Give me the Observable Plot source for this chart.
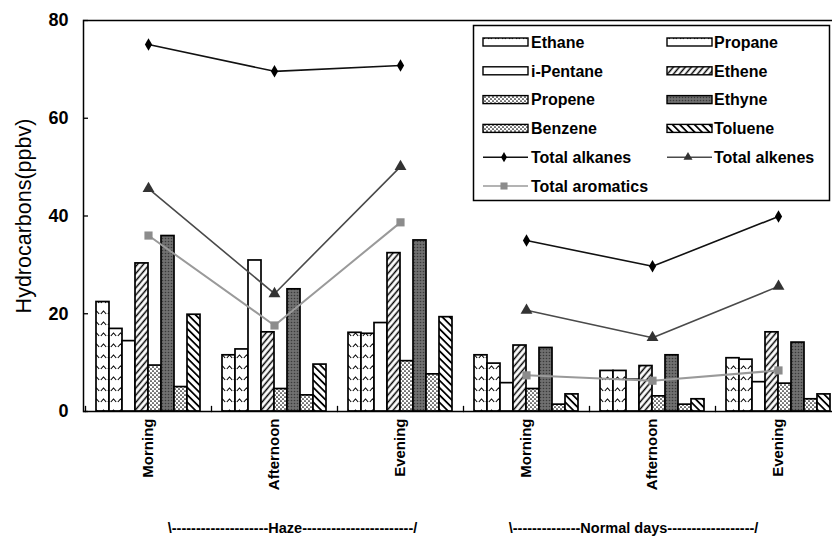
<!DOCTYPE html>
<html><head><meta charset="utf-8">
<script src="https://cdn.jsdelivr.net/npm/d3@7"></script>
<script src="https://cdn.jsdelivr.net/npm/@observablehq/plot@0.6"></script>
<style>
body{margin:0;background:#fff;}
#wrap{position:relative;width:832px;height:537px;overflow:hidden;background:#fff;}
#wrap svg{position:absolute;left:0;top:0;}
</style></head><body><div id="wrap"></div>
<script>
// ---- data ----
const periods = ["Haze","Haze","Haze","Normal days","Normal days","Normal days"];
const times = ["Morning","Afternoon","Evening","Morning","Afternoon","Evening"];
const species = ["Ethane","Propane","i-Pentane","Ethene","Propene","Ethyne","Benzene","Toluene"];
const ethane   = [22.4, 11.5, 16.1, 11.5, 8.3, 10.9];
const propane  = [16.9, 12.7, 15.9, 9.8, 8.3, 10.6];
const iPentane = [14.4, 30.9, 18.1, 5.8, 6.5, 6.0];
const ethene   = [30.3, 16.2, 32.4, 13.5, 9.3, 16.2];
const propene  = [9.4, 4.6, 10.3, 4.6, 3.1, 5.7];
const ethyne   = [35.9, 25.0, 35.0, 13.0, 11.5, 14.1];
const benzene  = [5.0, 3.3, 7.6, 1.4, 1.4, 2.5];
const toluene  = [19.8, 9.6, 19.3, 3.5, 2.5, 3.5];
const totalAlkanes   = [75.1, 69.6, 70.8, 35.0, 29.7, 39.9];
const totalAlkenes   = [45.6, 24.1, 50.1, 20.7, 15.1, 25.6];
const totalAromatics = [36.0, 17.6, 38.7, 7.4, 6.3, 8.4];
const yTicks = [0, 20, 40, 60, 80];
const yLabel = "Hydrocarbons(ppbv)";
const groupLabels = ["\\" + "-".repeat(20) + "Haze" + "-".repeat(23) + "/",
                     "\\" + "-".repeat(14) + "Normal days" + "-".repeat(18) + "/"];
const lineNames = ["Total alkanes","Total alkenes","Total aromatics"];

// ---- derived tables ----
const seriesValues = [ethane, propane, iPentane, ethene, propene, ethyne, benzene, toluene];
const groups = times.map((t, i) => periods[i] + "|" + t);
const bars = [];
groups.forEach((g, i) => species.forEach((s, j) => bars.push({group: g, species: s, value: seriesValues[j][i]})));
const patId = {"Ethane":"p-chev","Propane":"p-chev2","i-Pentane":"p-white","Ethene":"p-fwd","Propene":"p-dots",
               "Ethyne":"p-dark","Benzene":"p-dots2","Toluene":"p-back"};
const mkLine = (arr, name) => arr.map((v, i) => ({group: groups[i], value: v, key: name + periods[i]}));
const alkanes = mkLine(totalAlkanes, "alk"), alkenes = mkLine(totalAlkenes, "ene"), aromatics = mkLine(totalAromatics, "aro");

const W = 832, H = 537, mL = 83, mT = 20, mB = 126, mR = -10;
const font = "'Liberation Sans', Arial, sans-serif";

const base = Plot.plot({
  width: W, height: H, marginLeft: mL, marginRight: mR, marginTop: mT, marginBottom: mB,
  style: {fontFamily: font, background: "transparent", color: "#000"},
  fx: {domain: groups, padding: 0},
  x: {domain: species, paddingInner: 0, paddingOuter: 0.685, axis: null},
  y: {domain: [0, 80], axis: null},
  color: {type: "identity"},
  marks: [
    Plot.barY(bars, {fx: "group", x: "species", y: "value", fill: d => "url(#" + patId[d.species] + ")",
                     stroke: "#000", strokeWidth: 1.7}),
    Plot.frame({anchor: "left", insetTop: 386, stroke: "#000", strokeWidth: 1.3}),
    Plot.axisFx({anchor: "bottom", tickRotate: -90, tickSize: 0, tickPadding: 7, fontSize: 15, fontWeight: "bold",
                 label: null, tickFormat: d => d.split("|")[1]})
  ]
});

const overlay = Plot.plot({
  width: W, height: H, marginLeft: mL, marginRight: mR, marginTop: mT, marginBottom: mB,
  style: {fontFamily: font, background: "transparent", color: "#000"},
  x: {type: "band", domain: groups, padding: 0, axis: null},
  y: {domain: [0, 80], axis: null},
  marks: [
    Plot.frame({stroke: "#000", strokeWidth: 1.5}),
    Plot.axisY({ticks: yTicks, tickSize: 0, tickPadding: 15, fontSize: 18, fontWeight: "bold", label: null}),
    Plot.tickY(yTicks, {y: d => d, insetRight: (W - mR - mL) - 5, stroke: "#000", strokeWidth: 1.3}),
    Plot.text([yLabel], {frameAnchor: "left", textAnchor: "middle", rotate: -90, dx: -59, fontSize: 21.5, text: d => d}),
    Plot.line(aromatics, {x: "group", y: "value", z: "key", stroke: "#9a9a9a", strokeWidth: 2}),
    Plot.line(alkenes, {x: "group", y: "value", z: "key", stroke: "#4a4a4a", strokeWidth: 1.6}),
    Plot.line(alkanes, {x: "group", y: "value", z: "key", stroke: "#111", strokeWidth: 1.6}),
    Plot.dot(aromatics, {x: "group", y: "value", symbol: "square", r: 4.6, fill: "#8c8c8c"}),
    Plot.dot(alkenes, {x: "group", y: "value", symbol: "triangle", r: 4.4, fill: "#333"}),
    Plot.dot(alkanes, {x: "group", y: "value", symbol: "diamond", r: 3.8, fill: "#000"}),
    Plot.text([groupLabels[0]], {x: () => groups[1], frameAnchor: "bottom", dy: 121, dx: 18, fontSize: 14.5, fontWeight: "bold", text: d => d}),
    Plot.text([groupLabels[1]], {x: () => groups[4], frameAnchor: "bottom", dy: 121, dx: -19, fontSize: 14.5, fontWeight: "bold", text: d => d})
  ]
});

// ---- patterns ----
const defs = d3.select(base).append("defs");
function hatch(id, angle, gap, sw) {
  const p = defs.append("pattern").attr("id", id).attr("patternUnits", "userSpaceOnUse")
    .attr("width", gap).attr("height", gap).attr("patternTransform", "rotate(" + angle + ")");
  p.append("rect").attr("width", gap).attr("height", gap).attr("fill", "#fff");
  p.append("line").attr("x1", gap / 2).attr("y1", 0).attr("x2", gap / 2).attr("y2", gap).attr("stroke", "#000").attr("stroke-width", sw);
}
hatch("p-fwd", 40, 4.6, 1.5);
hatch("p-back", -45, 5.2, 1.8);
function chev(id, off) {
  const p = defs.append("pattern").attr("id", id).attr("patternUnits", "userSpaceOnUse")
    .attr("width", 7).attr("height", 11).attr("patternTransform", "translate(" + off + ",0)");
  p.append("rect").attr("width", 7).attr("height", 11).attr("fill", "#fff");
  p.append("path").attr("d", "M0.8,6 L3.5,3 L6.2,6").attr("fill", "none").attr("stroke", "#000").attr("stroke-width", 1.1);
}
chev("p-chev", 0); chev("p-chev2", 3);
function dots(id) {
  const p = defs.append("pattern").attr("id", id).attr("patternUnits", "userSpaceOnUse").attr("width", 4).attr("height", 4);
  p.append("rect").attr("width", 4).attr("height", 4).attr("fill", "#fff");
  p.append("circle").attr("cx", 1).attr("cy", 1).attr("r", 0.85).attr("fill", "#000");
  p.append("circle").attr("cx", 3).attr("cy", 3).attr("r", 0.85).attr("fill", "#000");
}
dots("p-dots"); dots("p-dots2");
{
  const p = defs.append("pattern").attr("id", "p-dark").attr("patternUnits", "userSpaceOnUse").attr("width", 3).attr("height", 3);
  p.append("rect").attr("width", 3).attr("height", 3).attr("fill", "#707070");
  p.append("circle").attr("cx", 1.5).attr("cy", 1.5).attr("r", 0.8).attr("fill", "#3a3a3a");
}
{
  const p = defs.append("pattern").attr("id", "p-white").attr("patternUnits", "userSpaceOnUse").attr("width", 4).attr("height", 4);
  p.append("rect").attr("width", 4).attr("height", 4).attr("fill", "#fff");
}

// ---- legend (drawn into overlay) ----
const lg = d3.select(overlay).append("g").attr("font-family", font).attr("font-size", 16)
  .attr("font-weight", "bold").attr("text-anchor", "start");
lg.append("rect").attr("x", 473.5).attr("y", 25.5).attr("width", 356).attr("height", 175)
  .attr("fill", "#fff").attr("stroke", "#000").attr("stroke-width", 1.5);
const legendItems = species.map(s => ({name: s, kind: "bar"}))
  .concat(lineNames.map((n, i) => ({name: n, kind: "line", i})));
const lineStyle = [{stroke: "#111", fill: "#000", sym: d3.symbolDiamond, size: 30},
                   {stroke: "#4a4a4a", fill: "#333", sym: d3.symbolTriangle, size: 35},
                   {stroke: "#9a9a9a", fill: "#8c8c8c", sym: d3.symbolSquare, size: 50}];
legendItems.forEach((it, k) => {
  const col = k % 2, row = Math.floor(k / 2);
  const sx = col ? 667 : 483, tx = col ? 714 : 531, cy = 42 + row * 28.8;
  if (it.kind === "bar") {
    lg.append("rect").attr("x", sx).attr("y", cy - 4).attr("width", 45).attr("height", 8)
      .attr("fill", "url(#" + patId[it.name] + ")").attr("stroke", "#000").attr("stroke-width", 1.4);
  } else {
    const st = lineStyle[it.i];
    lg.append("line").attr("x1", sx).attr("x2", sx + 45).attr("y1", cy).attr("y2", cy)
      .attr("stroke", st.stroke).attr("stroke-width", 1.6);
    lg.append("path").attr("d", d3.symbol(st.sym, st.size)()).attr("transform", `translate(${sx + 21},${cy})`).attr("fill", st.fill);
  }
  lg.append("text").attr("x", tx).attr("y", cy).attr("dy", "0.36em").text(it.name);
});

const wrap = document.getElementById("wrap");
wrap.appendChild(base);
wrap.appendChild(overlay);
</script></body></html>
